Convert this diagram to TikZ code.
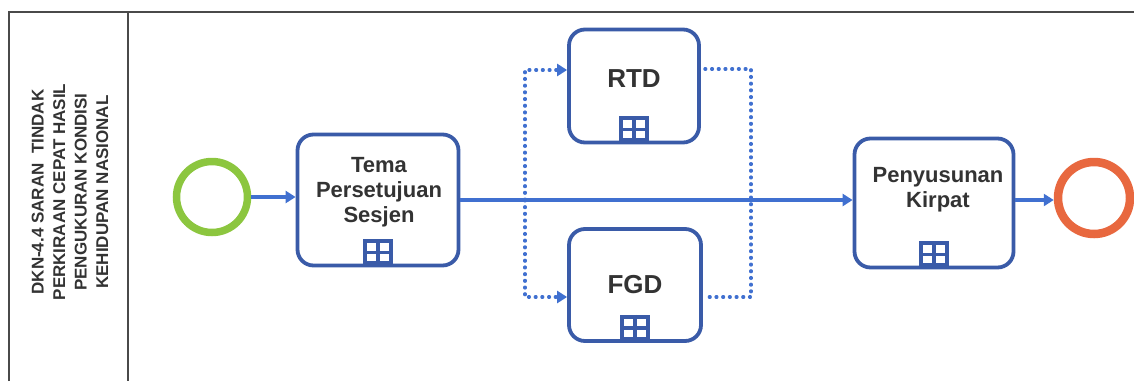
\documentclass[tikz,border=0pt]{standalone}
\usepackage{fontspec}
\setmainfont{Liberation Sans}
\usetikzlibrary{arrows.meta,calc}
\definecolor{boxblue}{HTML}{3A5BA8}
\definecolor{flowblue}{HTML}{4070D0}
\definecolor{startgreen}{HTML}{8CC63F}
\definecolor{endorange}{HTML}{E8683F}
\definecolor{txt}{HTML}{333333}
\definecolor{frame}{HTML}{4A4A4A}
\tikzset{
  taskbox/.style={draw=boxblue, line width=3.8pt, rounded corners=16pt, fill=white},
  tasktext/.style={align=center, text=txt, font=\fontsize{22}{25}\selectfont\bfseries, inner sep=0pt},
  bigtext/.style={align=center, text=txt, font=\fontsize{26}{28}\selectfont\bfseries, inner sep=0pt},
  markbox/.style={draw=boxblue, line width=4pt, fill=white, minimum width=26pt, minimum height=22pt, inner sep=0pt, anchor=south},
  seqflow/.style={draw=flowblue, line width=3.4pt, -{Triangle[length=10pt,width=12pt]}},
  assoc/.style={draw=flowblue, line width=3.2pt, line cap=round, dash pattern=on 0.9pt off 5.8pt},
  assocarrow/.style={assoc, -{Triangle[length=10pt,width=12pt]}},
  lanetext/.style={align=center, text=txt, font=\fontsize{17}{21.5}\selectfont\bfseries, inner sep=0pt, rotate=90}
}
\newcommand{\submarker}[2]{%
  \node[markbox] (#2) at ([yshift=2pt]#1.south) {};
  \draw[boxblue, line width=3.5pt] (#2.north) -- (#2.south) (#2.west) -- (#2.east);
}
\begin{document}
\begin{tikzpicture}[x=1pt, y=-1pt]
\useasboundingbox (0,0) rectangle (1134,381);
% frame
\draw[frame, line width=1.6pt] (9,381) -- (9,12) -- (1134,12);
\draw[frame, line width=1.6pt] (128,12) -- (128,381);
\node[lanetext] (lane) at (70,192) {DKN-4.4 SARAN\ \ TINDAK\\PERKIRAAN CEPAT HASIL\\PENGUKURAN KONDISI\\KEHIDUPAN NASIONAL};

% events
\node[circle, draw=startgreen, line width=7.5pt, minimum size=71pt, inner sep=0pt] (start) at (212,197) {};
\node[circle, draw=endorange, line width=8.5pt, minimum size=72pt, inner sep=0pt] (end) at (1094,198) {};

% tasks
\node[taskbox, minimum width=161pt, minimum height=131pt] (t1) at (378,200) {};
\node[tasktext] (t1txt) at (379,192) {Tema\\Persetujuan\\Sesjen};
\submarker{t1}{m1}

\node[taskbox, minimum width=130pt, minimum height=113pt] (rtd) at (634,86) {};
\node[bigtext] (rtdtxt) at (634,79) {RTD};
\submarker{rtd}{m2}

\node[taskbox, minimum width=132pt, minimum height=112pt] (fgd) at (635,285) {};
\node[bigtext] (fgdtxt) at (635,285) {FGD};
\submarker{fgd}{m3}

\node[taskbox, minimum width=159pt, minimum height=129pt] (kp) at (934,203) {};
\node[tasktext] (kptxt) at (938,190) {Penyusunan\\Kirpat};
\submarker{kp}{m4}

% sequence flows
\draw[seqflow] (start.east) -- (t1.west |- start.east);
\draw[seqflow] (t1.east |- 0,200) -- (kp.west |- 0,200);
\draw[seqflow] (kp.east |- 0,200) -- (end.west |- 0,200);

% associations
\coordinate (sl) at (525,200);
\coordinate (sr) at (751,200);
\draw[assocarrow] (sl) -- (525,70) -- (rtd.west |- 0,70);
\draw[assocarrow] (sl) -- (525,297) -- (fgd.west |- 0,297);
\draw[assoc] ([xshift=4pt]rtd.east |- 0,69) -- (751,69) -- (sr) -- (751,297) -- ([xshift=4pt]fgd.east |- 0,297);
\end{tikzpicture}
\end{document}
